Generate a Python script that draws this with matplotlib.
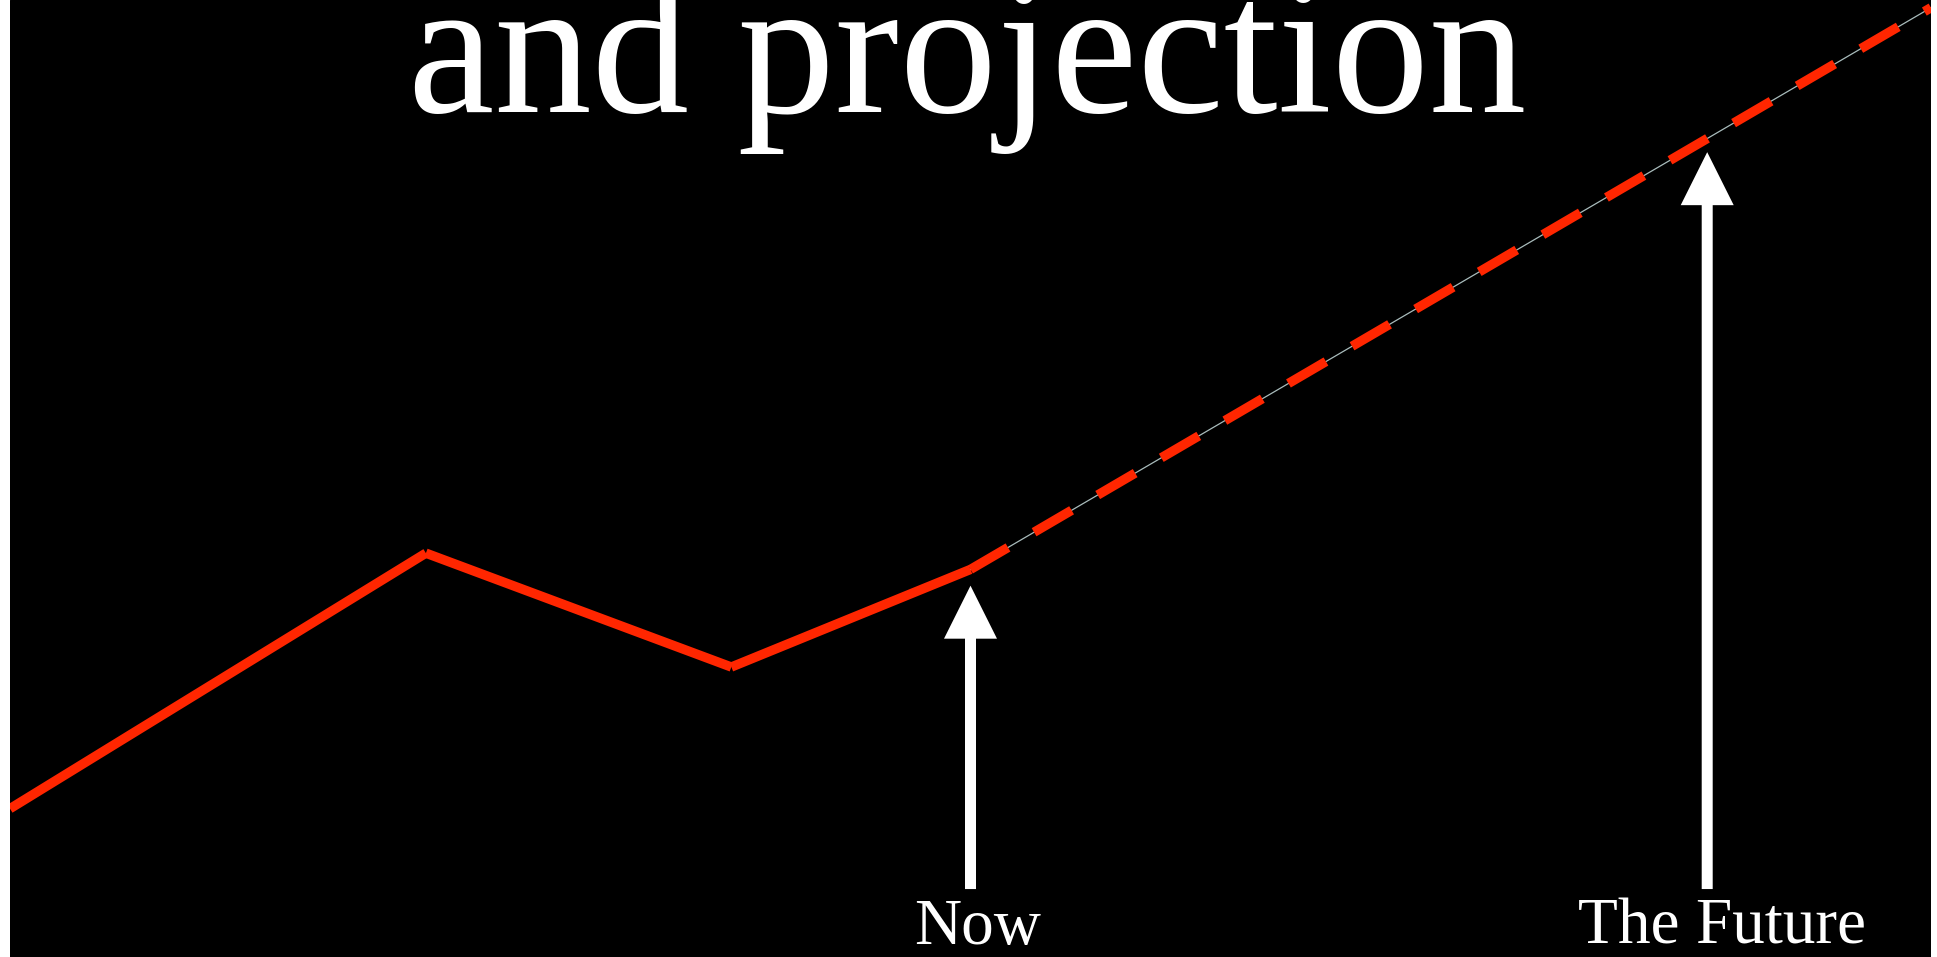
import matplotlib
matplotlib.use('Agg')
import matplotlib.pyplot as plt

# history and projection (abstract time / value units)
hist_x = [0, 4.33, 7.51, 10]
hist_y = [1.55, 4.22, 3.03, 4.05]
proj_x = [10, 20]
proj_y = [4.05, 9.92]

# arrow markers: (x, tip y, label)
arrow_x = [10, 17.67]
arrow_tip = [3.88, 8.41]
arrow_labels = ['Now', 'The Future']
label_x = [10.07, 17.82]

title = 'and projection'

RED = '#ff2600'
SERIF = ['Liberation Serif', 'DejaVu Serif']

fig = plt.figure(figsize=(19.37, 9.57), dpi=100, facecolor='white')
ax = fig.add_axes([10 / 1937, 0, 1921 / 1937, 1])
ax.set_xlim(0, 20)
ax.set_ylim(0, 10)
ax.axis('off')
ax.add_patch(plt.Rectangle((0, 0), 1, 1, transform=ax.transAxes, color='black', zorder=0))

# thin guide under the dashed projection
ax.plot(proj_x, proj_y, color='#a9bcbc', linewidth=0.9, zorder=2)
ax.plot(proj_x, proj_y, color=RED, linewidth=6.8, linestyle=(0, (4.6, 3.2)),
        dash_capstyle='butt', zorder=3)
# each history segment drawn on its own (butt ends, no joins)
for i in range(len(hist_x) - 1):
    ax.plot(hist_x[i:i + 2], hist_y[i:i + 2], color=RED, linewidth=6.8,
            solid_capstyle='butt', zorder=4)

for x, tip in zip(arrow_x, arrow_tip):
    ax.arrow(x, 0.71, 0, tip - 0.71, width=11 / 96.05, head_width=53 / 96.05,
             head_length=53 / 95.7, length_includes_head=True,
             color='white', linewidth=0, zorder=5)

for x, lab in zip(label_x, arrow_labels):
    ax.text(x, 0.136, lab, color='white', fontsize=47, family=SERIF,
            ha='center', va='baseline')

ax.text(9.97, 8.83, title, color='white', fontsize=140, family=SERIF,
        ha='center', va='baseline')

fig.savefig('out.png', dpi=100, facecolor=fig.get_facecolor())
